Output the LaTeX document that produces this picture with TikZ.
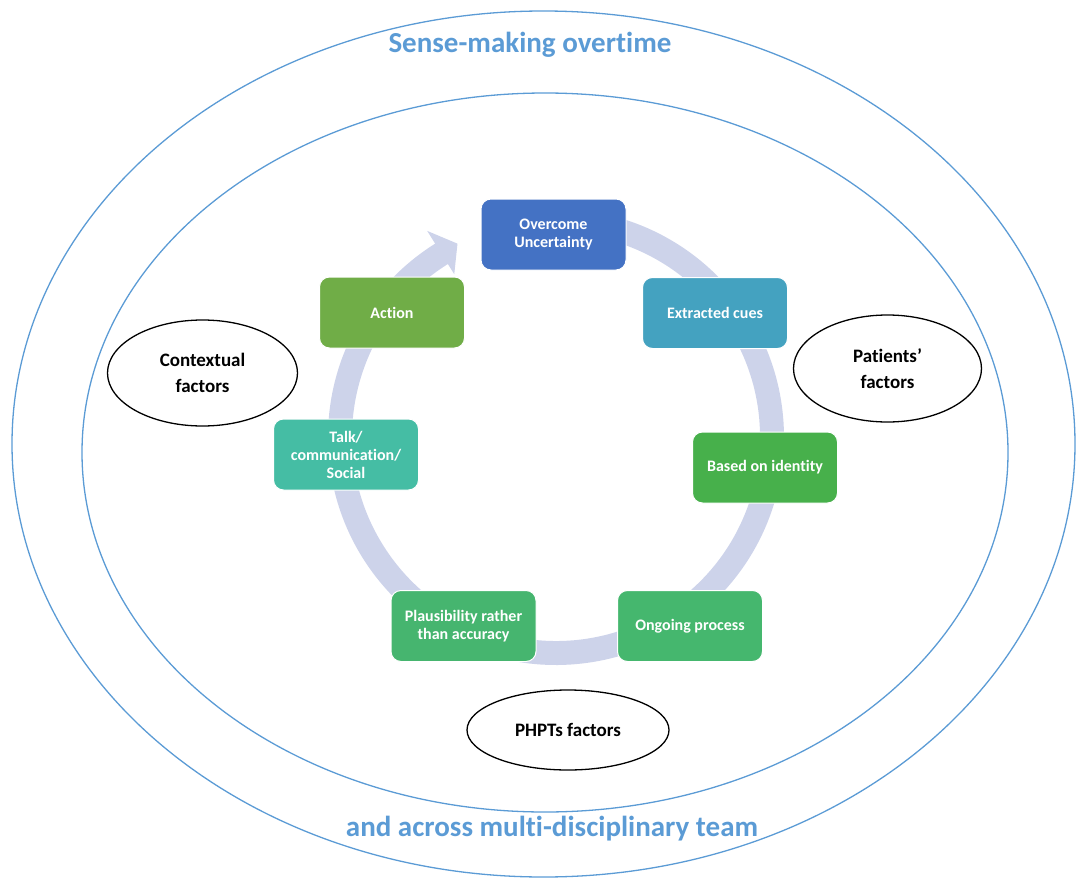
\documentclass[tikz,border=0pt]{standalone}
\usepackage{fontspec}
\setmainfont{Carlito}[RawFeature=-liga, RawFeature=-clig, RawFeature=-calt, RawFeature=-dlig]
\usetikzlibrary{shapes.geometric}

\definecolor{ringblue}{HTML}{5B9BD5}
\definecolor{bandc}{HTML}{CDD3EA}
\definecolor{cOvercome}{HTML}{4472C4}
\definecolor{cCues}{HTML}{44A2C0}
\definecolor{cIdentity}{HTML}{47B04B}
\definecolor{cOngoing}{HTML}{45B76E}
\definecolor{cPlaus}{HTML}{46B56F}
\definecolor{cTalk}{HTML}{45BDA4}
\definecolor{cAction}{HTML}{70AD47}

\tikzset{
  stagebox/.style={rectangle, rounded corners=10pt, minimum width=145pt,
    minimum height=71pt, inner sep=0pt, align=center, text=white,
    draw=white, line width=1pt,
    font=\bfseries\fontsize{16}{18}\selectfont},
  factor/.style={ellipse, draw=black, line width=1.3pt, fill=white,
    inner sep=0pt, align=center,
    font=\bfseries\fontsize{19}{26}\selectfont},
  ring/.style={draw=ringblue, line width=1.3pt},
  caption/.style={text=ringblue, inner sep=0pt,
    font=\bfseries\fontsize{29}{34}\selectfont}
}

\begin{document}
\begin{tikzpicture}[x=1pt,y=-1pt]
  \useasboundingbox (0,0) rectangle (1077,878);

  % two nested ellipses
  \draw[ring] (543.5,444) ellipse[x radius=531.5, y radius=433];
  \draw[ring] (545,452.5) ellipse[x radius=463, y radius=359.5];

  \node[caption] (top) at (530,45) {Sense-making overtime};
  \node[caption] (bottom) at (552,829) {and across multi-disciplinary team};

  % circular arrow behind the stages
  \begin{scope}[shift={(556,437)}]
    \fill[bandc] (-95:228) arc[start angle=-95, end angle=238, radius=228]
      -- (238:243) -- (243:217) -- (238:192) -- (238:204)
      arc[start angle=238, end angle=-95, radius=204] -- cycle;
  \end{scope}

  % stages of the cycle
  \node[stagebox, fill=cOvercome] (overcome) at (553.5,234.5) {Overcome\\Uncertainty};
  \node[stagebox, fill=cCues] (cues) at (715,313) {Extracted cues};
  \node[stagebox, fill=cIdentity] (identity) at (765,467.5) {Based on identity};
  \node[stagebox, fill=cOngoing] (ongoing) at (690,626) {Ongoing process};
  \node[stagebox, fill=cPlaus] (plaus) at (463.5,626) {Plausibility rather\\than accuracy};
  \node[stagebox, fill=cTalk] (talk) at (346,454.5) {Talk/\\communication/\\Social};
  \node[stagebox, fill=cAction] (action) at (392,312.5) {Action};

  % influencing factors
  \node[factor, minimum width=190pt, minimum height=106pt] (context) at (202.5,373) {Contextual\\factors};
  \node[factor, minimum width=188pt, minimum height=107pt] (patients) at (887.5,368.5) {Patients’\\factors};
  \node[factor, minimum width=202pt, minimum height=80pt] (phpt) at (568,730) {PHPTs factors};
\end{tikzpicture}
\end{document}
